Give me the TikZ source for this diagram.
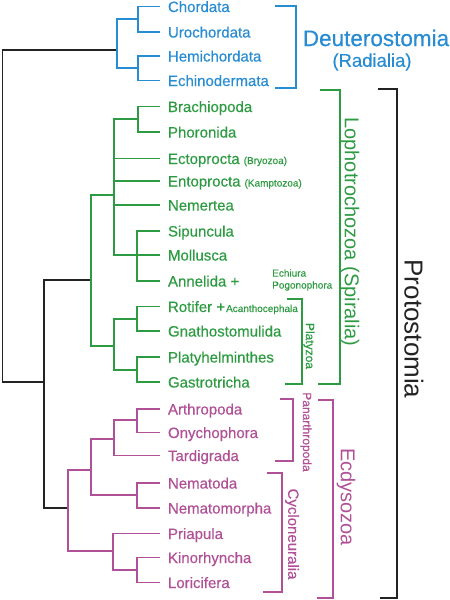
\documentclass[tikz,border=0pt]{standalone}
\usepackage{fontspec}
\setmainfont{Liberation Sans}
\newfontfamily\leaffont[FakeBold=0.4]{Liberation Sans}

\definecolor{deutblue}{RGB}{40,140,210}
\definecolor{lophgreen}{RGB}{45,155,65}
\definecolor{ecdpink}{RGB}{176,80,150}
\definecolor{rootgray}{RGB}{35,35,35}

\newcommand{\subname}[1]{{\fontsize{10}{12}\selectfont #1}}

\tikzset{
  leaf/.style={anchor=west, inner sep=0pt, outer xsep=8pt, outer ysep=0pt,
    text height=11pt, text depth=0pt, font=\leaffont\fontsize{15}{18}\selectfont},
  branch/.style={line width=1.2pt},
  cladename/.style={inner sep=0pt, anchor=center},
  sidename/.style={cladename, rotate=-90},
}

\begin{document}
\begin{tikzpicture}[x=1pt,y=1pt,yscale=-1,xscale=1]
\useasboundingbox (0,0) rectangle (450,600);

% internal nodes of the tree
\coordinate (root) at (2.5,216);
\coordinate (deut) at (117,50);
\coordinate (chord) at (138,19);
\coordinate (ambul) at (138,68);
\coordinate (proto) at (44,382);
\coordinate (lopho) at (91,280);
\coordinate (trocho) at (114,195);
\coordinate (brach) at (138,119);
\coordinate (spir) at (137,255);
\coordinate (platy) at (114,346);
\coordinate (rotgna) at (137,319);
\coordinate (platgas) at (137,370);
\coordinate (ecdy) at (68,508);
\coordinate (ecdA) at (91,470);
\coordinate (panar) at (114,439);
\coordinate (arthony) at (137,420);
\coordinate (nema) at (137,495);
\coordinate (scalid) at (113,551);
\coordinate (kinlor) at (137,570);

% Deuterostomia leaves
\begin{scope}[text=deutblue]
\node[leaf] (chordata) at (160,6.5) {Chordata};
\node[leaf] (urochordata) at (160,32) {Urochordata};
\node[leaf] (hemichordata) at (160,56) {Hemichordata};
\node[leaf] (echinodermata) at (160,80.5) {Echinodermata};
\end{scope}

% Lophotrochozoa leaves
\begin{scope}[text=lophgreen]
\node[leaf] (brachiopoda) at (160,106.5) {Brachiopoda};
\node[leaf] (phoronida) at (160,132) {Phoronida};
\node[leaf] (ectoprocta) at (160,158.5) {Ectoprocta\hspace{4pt}\subname{(Bryozoa)}};
\node[leaf] (entoprocta) at (160,181) {Entoprocta\hspace{4pt}\subname{(Kamptozoa)}};
\node[leaf] (nemertea) at (160,205) {Nemertea};
\node[leaf] (sipuncula) at (160,231) {Sipuncula};
\node[leaf] (mollusca) at (160,255) {Mollusca};
\node[leaf] (annelida) at (160,281) {Annelida +};
\node[leaf] (rotifer) at (160,306.5) {Rotifer +\hspace{1pt}\subname{Acanthocephala}};
\node[leaf] (gnathostomulida) at (160,331) {Gnathostomulida};
\node[leaf] (platyhelminthes) at (160,357) {Platyhelminthes};
\node[leaf] (gastrotricha) at (160,382) {Gastrotricha};
\node[anchor=west, inner sep=0pt, align=left, font=\leaffont\fontsize{10}{12}\selectfont]
  (echiura) at (272,280) {Echiura\\Pogonophora};
\end{scope}

% Ecdysozoa leaves
\begin{scope}[text=ecdpink]
\node[leaf] (arthropoda) at (160,409) {Arthropoda};
\node[leaf] (onychophora) at (160,432.5) {Onychophora};
\node[leaf] (tardigrada) at (160,455.5) {Tardigrada};
\node[leaf] (nematoda) at (160,483) {Nematoda};
\node[leaf] (nematomorpha) at (160,508) {Nematomorpha};
\node[leaf] (priapula) at (160,533.5) {Priapula};
\node[leaf] (kinorhyncha) at (160,557.5) {Kinorhyncha};
\node[leaf] (loricifera) at (160,582.5) {Loricifera};
\end{scope}

% branches
\foreach \a/\b in {root/deut, root/proto, proto/lopho, proto/ecdy}
  \draw[branch, rootgray, line width=1.5pt] (\a) |- (\b);
\foreach \a/\b in {deut/chord, deut/ambul, chord/chordata.west, chord/urochordata.west,
    ambul/hemichordata.west, ambul/echinodermata.west}
  \draw[branch, deutblue] (\a) |- (\b);
\foreach \a/\b in {lopho/trocho, lopho/platy, trocho/brach, trocho/ectoprocta.west,
    trocho/entoprocta.west, trocho/nemertea.west, trocho/spir,
    brach/brachiopoda.west, brach/phoronida.west,
    spir/sipuncula.west, spir/mollusca.west, spir/annelida.west,
    platy/rotgna, platy/platgas, rotgna/rotifer.west, rotgna/gnathostomulida.west,
    platgas/platyhelminthes.west, platgas/gastrotricha.west}
  \draw[branch, lophgreen] (\a) |- (\b);
\foreach \a/\b in {ecdy/ecdA, ecdy/scalid, ecdA/panar, ecdA/nema,
    panar/arthony, panar/tardigrada.west, arthony/arthropoda.west, arthony/onychophora.west,
    nema/nematoda.west, nema/nematomorpha.west,
    scalid/priapula.west, scalid/kinlor, kinlor/kinorhyncha.west, kinlor/loricifera.west}
  \draw[branch, ecdpink] (\a) |- (\b);

% brackets
\draw[branch, deutblue] (275,6) -- (296,6) -- (296,88) -- (275,88);
\draw[branch, lophgreen] (320,90) -- (340,90) -- (340,384) -- (318,384);
\draw[branch, lophgreen] (287,299) -- (302,299) -- (302,384) -- (285,384);
\draw[branch, ecdpink] (280,399) -- (293,399) -- (293,461) -- (275,461);
\draw[branch, ecdpink] (267,473) -- (282,473) -- (282,592) -- (263,592);
\draw[branch, ecdpink] (318,400) -- (333,400) -- (333,598) -- (317,598);
\draw[branch, rootgray, line width=1.5pt] (378,89) -- (397,89) -- (397,598) -- (380,598);

% clade names
\node[cladename, text=deutblue, font=\leaffont\fontsize{22.5}{27}\selectfont] (deutname) at (376,38) {Deuterostomia};
\node[cladename, text=deutblue, font=\leaffont\fontsize{18.5}{22}\selectfont] (radialia) at (372,62) {(Radialia)};
\node[sidename, text=rootgray, font=\fontsize{26}{30}\selectfont] (protoname) at (414,329) {Protostomia};
\node[sidename, text=lophgreen, font=\fontsize{20}{24}\selectfont] (lophoname) at (350,232) {Lophotrochozoa (Spiralia)};
\node[sidename, text=lophgreen, font=\leaffont\fontsize{12}{14}\selectfont] (platyname) at (309,346) {Platyzoa};
\node[sidename, text=ecdpink, font=\fontsize{20}{24}\selectfont] (ecdyname) at (346,497) {Ecdysozoa};
\node[sidename, text=ecdpink, font=\leaffont\fontsize{12}{14}\selectfont] (panarname) at (306,432) {Panarthropoda};
\node[sidename, text=ecdpink, font=\leaffont\fontsize{15}{18}\selectfont] (cycloname) at (292,534) {Cycloneuralia};

\end{tikzpicture}
\end{document}
